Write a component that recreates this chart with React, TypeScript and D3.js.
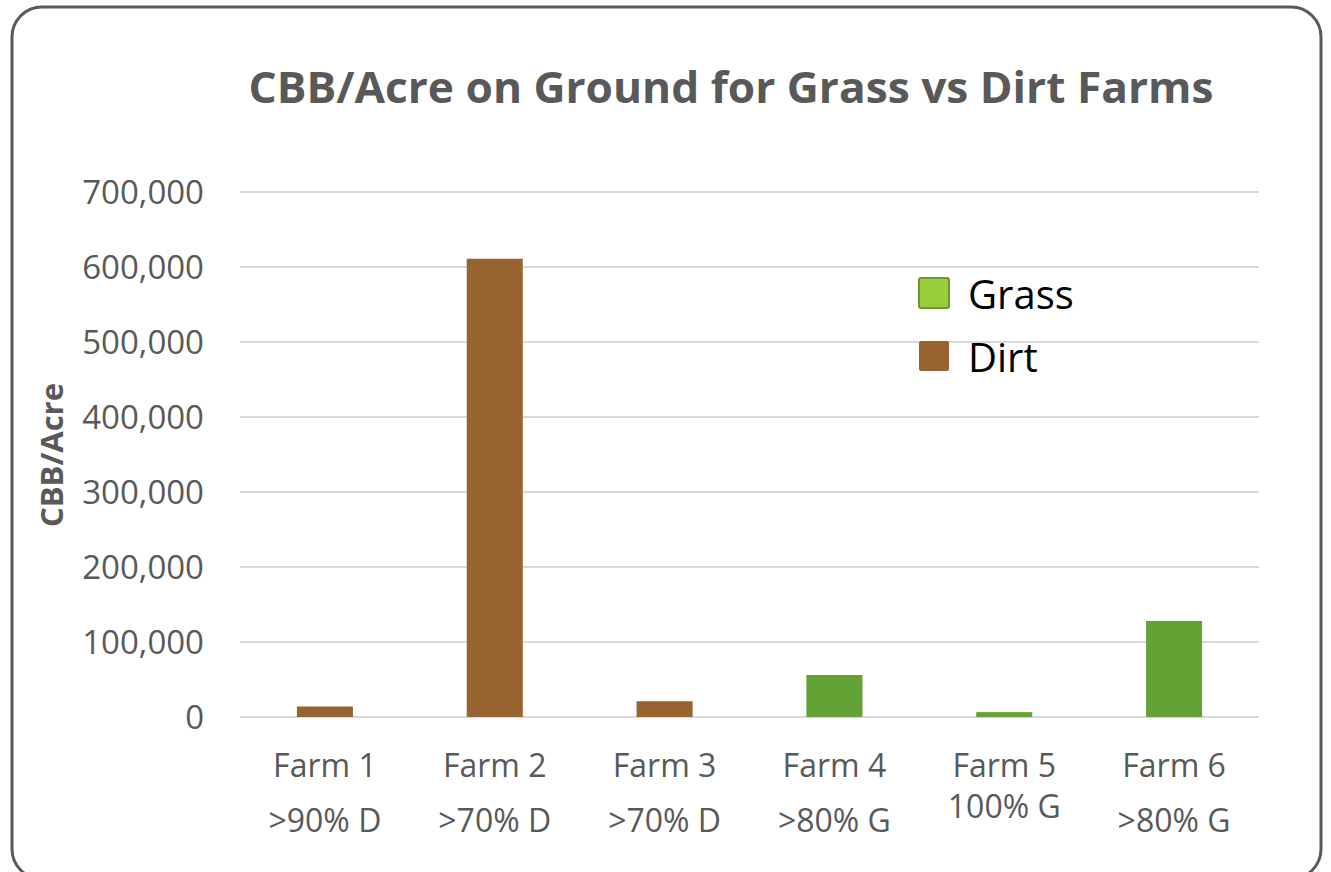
import React, { useEffect, useRef } from "react";
import * as d3 from "d3";

const farms = ["Farm 1", "Farm 2", "Farm 3", "Farm 4", "Farm 5", "Farm 6"];
const farmNotes = [">90% D", ">70% D", ">70% D", ">80% G", "100% G", ">80% G"];
const farmType = ["Dirt", "Dirt", "Dirt", "Grass", "Grass", "Grass"];
const cbbPerAcre = [14000, 611000, 21000, 56000, 6500, 128000];
const yTicks = [0, 100000, 200000, 300000, 400000, 500000, 600000, 700000];
const seriesNames = ["Grass", "Dirt"];

const W = 1331;
const H = 872;
const FONT = "'Open Sans', 'Liberation Sans', sans-serif";
const GRAY = "#595959";

const App = () => {
  const svgRef = useRef(null);

  useEffect(() => {
    const svg = d3.select(svgRef.current);
    svg.selectAll("*").remove();

    const x = d3.scaleBand().domain(farms).range([240, 1259]).paddingInner(0.67).paddingOuter(0.335);
    const y = d3.scaleLinear().domain([0, 700000]).range([717, 192]);
    const color = d3.scaleOrdinal<string>().domain(seriesNames).range(["#63a336", "#976331"]);

    // frame (bottom edge runs past the picture, as in the original)
    svg.append("rect")
      .attr("x", 12).attr("y", 7)
      .attr("width", 1309).attr("height", 872)
      .attr("rx", 30)
      .style("fill", "#fff")
      .style("stroke", GRAY)
      .style("stroke-width", 3);

    svg.append("text")
      .attr("x", 731).attr("y", 103)
      .attr("text-anchor", "middle")
      .attr("textLength", 965)
      .attr("lengthAdjust", "spacingAndGlyphs")
      .style("font-family", FONT)
      .style("font-weight", "bold")
      .style("font-size", "43px")
      .style("fill", GRAY)
      .text("CBB/Acre on Ground for Grass vs Dirt Farms");

    // grid
    svg.selectAll(".grid")
      .data(yTicks)
      .join("line")
      .classed("grid", true)
      .attr("x1", 240).attr("x2", 1259)
      .attr("y1", (d) => y(d)).attr("y2", (d) => y(d))
      .style("stroke", "#d9d9d9")
      .style("stroke-width", 2);

    svg.selectAll(".ytick")
      .data(yTicks)
      .join("text")
      .classed("ytick", true)
      .attr("x", 204)
      .attr("y", (d) => y(d))
      .attr("dy", "0.36em")
      .attr("text-anchor", "end")
      .style("font-family", FONT)
      .style("font-size", "33px")
      .style("fill", GRAY)
      .text((d) => d3.format(",")(d));

    svg.append("text")
      .attr("transform", "translate(63,455) rotate(-90)")
      .attr("text-anchor", "middle")
      .style("font-family", FONT)
      .style("font-weight", "bold")
      .style("font-size", "31px")
      .style("fill", GRAY)
      .text("CBB/Acre");

    // bars
    svg.selectAll(".bar")
      .data(farms)
      .join("rect")
      .classed("bar", true)
      .attr("x", (d) => x(d)!)
      .attr("width", x.bandwidth())
      .attr("y", (d, i) => y(cbbPerAcre[i]))
      .attr("height", (d, i) => y(0) - y(cbbPerAcre[i]))
      .style("fill", (d, i) => color(farmType[i]));

    const cx = (d: string) => x(d)! + x.bandwidth() / 2;
    svg.selectAll(".xlab")
      .data(farms)
      .join("text")
      .classed("xlab", true)
      .attr("x", cx)
      .attr("y", 777)
      .attr("text-anchor", "middle")
      .style("font-family", FONT)
      .style("font-size", "32px")
      .style("fill", GRAY)
      .text((d) => d);

    svg.selectAll(".xnote")
      .data(farms)
      .join("text")
      .classed("xnote", true)
      .attr("x", cx)
      .attr("y", (d, i) => (farmNotes[i].startsWith(">") ? 832 : 818))
      .attr("text-anchor", "middle")
      .style("font-family", FONT)
      .style("font-size", "32px")
      .style("fill", GRAY)
      .text((d, i) => farmNotes[i]);

    // legend
    const leg = svg.selectAll(".leg")
      .data(seriesNames)
      .join("g")
      .classed("leg", true)
      .attr("transform", (d, i) => `translate(919,${278 + i * 63})`);
    leg.append("rect")
      .attr("width", 30).attr("height", 30)
      .attr("rx", 2)
      .style("fill", (d) => (d === "Grass" ? "#9acd3c" : color(d)))
      .style("stroke", (d) => (d === "Grass" ? "#6b9a2a" : "none"))
      .style("stroke-width", 2);
    leg.append("text")
      .attr("x", 49).attr("y", 17)
      .attr("dy", "0.36em")
      .style("font-family", FONT)
      .style("font-size", "40px")
      .style("fill", "#000")
      .text((d) => d);
  }, []);

  return (
    <svg
      ref={svgRef}
      width={W}
      height={H}
      style={{ position: "absolute", left: 0, top: 0, background: "#fff" }}
    ></svg>
  );
};

export default App;
